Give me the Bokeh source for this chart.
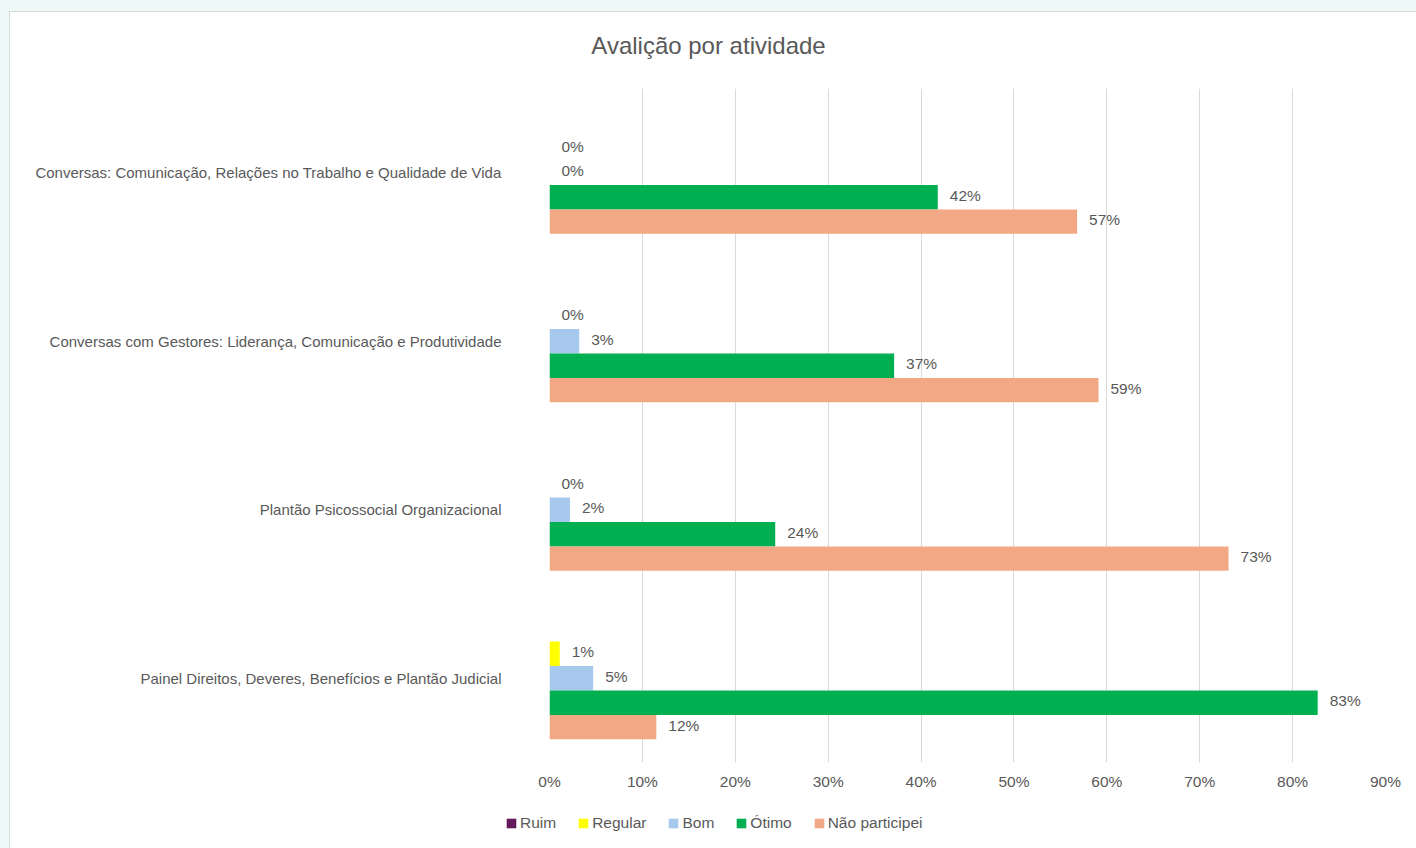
from bokeh.plotting import figure
from bokeh.layouts import column
from bokeh.models import ColumnDataSource, FactorRange, NumeralTickFormatter, FixedTicker, Legend, LegendItem, Label
from bokeh.transform import dodge
from bokeh.core.properties import value
from bokeh.embed import file_html
from bokeh.resources import INLINE

categories = [
    "Conversas: Comunicação, Relações no Trabalho e Qualidade de Vida",
    "Conversas com Gestores: Liderança, Comunicação e Produtividade",
    "Plantão Psicossocial Organizacional",
    "Painel Direitos, Deveres, Benefícios e Plantão Judicial",
]
ruim = [0.0, 0.0, 0.0, 0.0]
regular = [0.0, 0.0, 0.0, 0.011]
bom = [0.0, 0.032, 0.022, 0.047]
otimo = [0.418, 0.371, 0.243, 0.827]
nao = [0.568, 0.591, 0.731, 0.115]

series_names = ["Ruim", "Regular", "Bom", "Ótimo", "Não participei"]
series_keys = ["ruim", "regular", "bom", "otimo", "nao"]
colors = ["#641a5a", "#ffff00", "#a6c8ec", "#00b050", "#f2a884"]
x_ticks = [0.0, 0.1, 0.2, 0.3, 0.4, 0.5, 0.6, 0.7, 0.8, 0.9]
title_text = "Avalição por atividade"

FONT = "Liberation Sans"
GRAY = "#595959"
W = 1406


def strip(height):
    f = figure(width=W, height=height, x_range=(0, W), y_range=(0, height),
               output_backend="svg", toolbar_location=None,
               x_axis_type=None, y_axis_type=None, min_border=0)
    f.frame_align = False
    f.outline_line_color = None
    f.xgrid.grid_line_color = None
    f.ygrid.grid_line_color = None
    f.border_fill_color = "white"
    f.background_fill_color = "white"
    return f


# ---- title strip ----
tf = strip(76)
tf.add_layout(Label(x=698, y=43, text=title_text, text_align="center", text_baseline="middle",
                    text_font=FONT, text_font_size="24px", text_color=GRAY))

# ---- main chart ----
data = dict(cat=categories, ruim=ruim, regular=regular, bom=bom, otimo=otimo, nao=nao)
for k in series_keys:
    data[k + "_lbl"] = ["%d%%" % int(v * 100 + 0.5) for v in data[k]]
source = ColumnDataSource(data)

p = figure(
    width=W, height=714,
    y_range=FactorRange(*categories[::-1]),
    x_range=(0, 0.9),
    output_backend="svg", toolbar_location=None,
    min_border_left=539, min_border_right=31, min_border_top=0, min_border_bottom=40,
)
p.frame_align = False
p.outline_line_color = None
p.background_fill_color = "white"
p.border_fill_color = "white"

row_h = 0.145
offsets = [2 * row_h, row_h, 0.0, -row_h, -2 * row_h]
for key, col, off in zip(series_keys, colors, offsets):
    p.hbar(y=dodge("cat", off, range=p.y_range), left=0, right=key, height=row_h,
           source=source, fill_color=col, line_color=None)
    if key != "ruim":
        p.text(x=key, y=dodge("cat", off, range=p.y_range), text=key + "_lbl", source=source,
               x_offset=12, y_offset=-2, text_align="left", text_baseline="middle",
               text_font=value(FONT), text_font_size="15.5px", text_color=GRAY)

p.xaxis.ticker = FixedTicker(ticks=x_ticks)
p.xaxis.formatter = NumeralTickFormatter(format="0%")
p.xaxis.axis_line_color = None
p.xaxis.major_tick_line_color = None
p.xaxis.minor_tick_line_color = None
p.xaxis.major_label_text_font = FONT
p.xaxis.major_label_text_font_size = "15.5px"
p.xaxis.major_label_text_color = GRAY
p.xaxis.major_label_standoff = 4

p.yaxis.axis_line_color = None
p.yaxis.major_tick_line_color = None
p.yaxis.minor_tick_line_color = None
p.yaxis.major_label_text_font = FONT
p.yaxis.major_label_text_font_size = "15px"
p.yaxis.major_label_text_color = GRAY
p.yaxis.major_label_standoff = 42

p.xgrid.grid_line_color = "#d9d9d9"
p.ygrid.grid_line_color = None

# ---- legend strip (proxy renderers lie outside the strip's visible range) ----
lf = strip(46)
proxy = ColumnDataSource(dict(y=[-100], r=[0]))
items = []
for name, col in zip(series_names, colors):
    r = lf.hbar(y="y", right="r", left=0, height=1, source=proxy, fill_color=col, line_color=None)
    items.append(LegendItem(label=name, renderers=[r]))
legend = Legend(
    items=items,
    orientation="horizontal",
    location=(495, 16),
    glyph_width=12, glyph_height=12,
    label_text_font=FONT, label_text_font_size="15.5px", label_text_color=GRAY,
    label_standoff=3, spacing=21, padding=0, margin=0,
    border_line_color=None, background_fill_alpha=0,
)
lf.add_layout(legend, "center")

inner = column(tf, p, lf, spacing=0,
               styles={"background-color": "white",
                       "border-left": "1px solid #d6dcdb", "border-top": "1px solid #d6dcdb"})
page = column(inner, styles={"background-color": "#eef8f7", "padding-left": "9px", "padding-top": "11px"})

open("out.html", "w").write(file_html(page, INLINE))
